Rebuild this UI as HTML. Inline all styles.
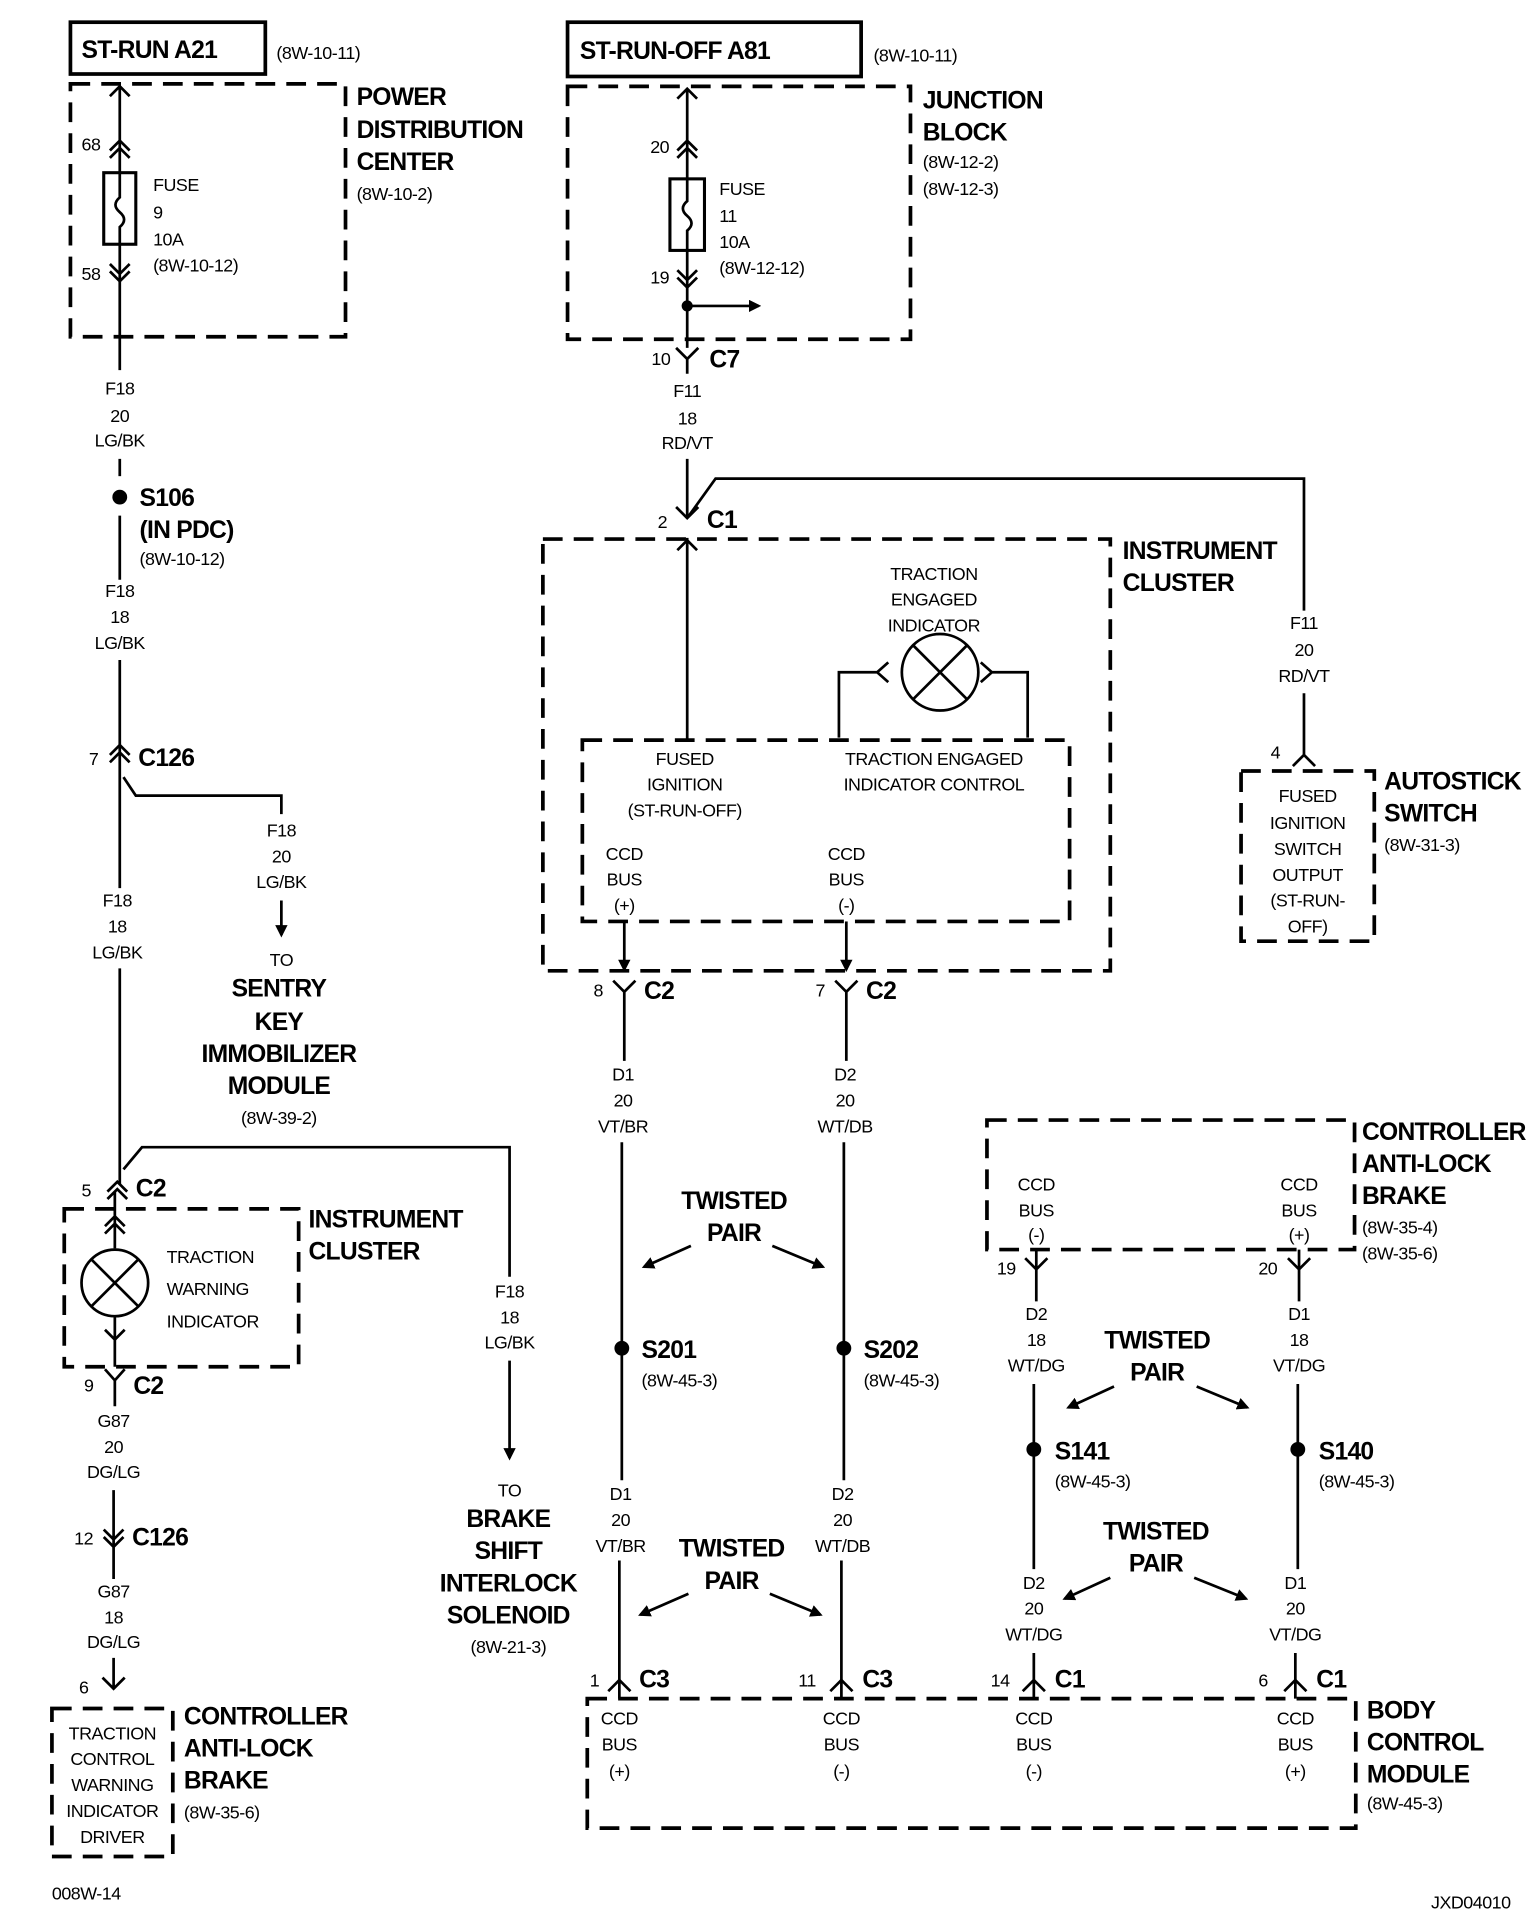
<!DOCTYPE html>
<html><head><meta charset="utf-8"><style>
html,body{margin:0;padding:0;background:#fff}
svg{display:block}
text{font-family:"Liberation Sans",sans-serif;fill:#000}
.b{font-weight:bold;font-size:20px;letter-spacing:-0.6px}
.s{font-size:14.5px;letter-spacing:-0.4px}
.c{text-anchor:middle}
.w{stroke:#000;stroke-width:2.2;fill:none}
.d{stroke:#000;stroke-width:3;fill:none;stroke-dasharray:16 9}
</style></head><body>
<svg width="1536" height="1912" viewBox="0 0 1245 1550" xmlns="http://www.w3.org/2000/svg">
<defs>
<marker id="ah" markerWidth="10" markerHeight="10" refX="8" refY="5" orient="auto" markerUnits="userSpaceOnUse"><path d="M0,0 L10,5 L0,10 z" fill="#000"/></marker>
</defs>
<!-- LEFT COLUMN -->
<rect x="57" y="18" width="158" height="42" fill="none" stroke="#000" stroke-width="3"/>
<text x="66" y="47" class="b">ST-RUN A21</text>
<text x="224" y="48" class="s">(8W-10-11)</text>
<rect x="57" y="68" width="223" height="205" class="d"/>
<text x="289" y="85" class="b">POWER</text><text x="289" y="112" class="b">DISTRIBUTION</text><text x="289" y="138" class="b">CENTER</text>
<text x="289" y="162" class="s">(8W-10-2)</text>
<path class="w" d="M97 70V140M97 198V300M89 78L97 70L105 78"/>
<path class="w" d="M89 122L97 114L105 122M89 128L97 120L105 128"/>
<rect x="84" y="140" width="26" height="58" fill="none" stroke="#000" stroke-width="2.5"/>
<path class="w" d="M97 140V160Q90 166 97 172Q104 178 97 184V198"/>
<path class="w" d="M89 214L97 222L105 214M89 220L97 228L105 220"/>
<text x="66" y="122" class="s">68</text><text x="66" y="227" class="s">58</text>
<text x="124" y="155" class="s">FUSE</text><text x="124" y="177" class="s">9</text><text x="124" y="199" class="s">10A</text><text x="124" y="220" class="s">(8W-10-12)</text>
<text x="97" y="320" class="s c">F18</text><text x="97" y="342" class="s c">20</text><text x="97" y="362" class="s c">LG/BK</text>
<path class="w" d="M97 372V386"/>
<circle cx="97" cy="403" r="6"/>
<text x="113" y="410" class="b">S106</text><text x="113" y="436" class="b">(IN PDC)</text><text x="113" y="458" class="s">(8W-10-12)</text>
<path class="w" d="M97 418V470"/>
<text x="97" y="484" class="s c">F18</text><text x="97" y="505" class="s c">18</text><text x="97" y="526" class="s c">LG/BK</text>
<path class="w" d="M97 535V720M97 785V960"/>
<path class="w" d="M89 612L97 604L105 612M89 618L97 610L105 618"/>
<text x="72" y="620" class="s">7</text><text x="112" y="621" class="b">C126</text>
<path class="w" d="M100 630L110 645H228V660"/>
<text x="228" y="678" class="s c">F18</text><text x="228" y="699" class="s c">20</text><text x="228" y="720" class="s c">LG/BK</text>
<path class="w" d="M228 730V758" marker-end="url(#ah)"/>
<text x="228" y="783" class="s c">TO</text>
<text x="226" y="808" class="b c">SENTRY</text><text x="226" y="835" class="b c">KEY</text><text x="226" y="861" class="b c">IMMOBILIZER</text><text x="226" y="887" class="b c">MODULE</text>
<text x="226" y="911" class="s c">(8W-39-2)</text>
<text x="95" y="735" class="s c">F18</text><text x="95" y="756" class="s c">18</text><text x="95" y="777" class="s c">LG/BK</text>
<path class="w" d="M87 966L95 958L103 966M87 972L95 964L103 972"/>
<text x="66" y="970" class="s">5</text><text x="110" y="970" class="b">C2</text>
<path class="w" d="M100 948L115 930H413V1035"/>
<text x="413" y="1052" class="s c">F18</text><text x="413" y="1073" class="s c">18</text><text x="413" y="1093" class="s c">LG/BK</text>
<path class="w" d="M413 1103V1182" marker-end="url(#ah)"/>
<text x="413" y="1213" class="s c">TO</text>
<text x="412" y="1238" class="b c">BRAKE</text><text x="412" y="1264" class="b c">SHIFT</text><text x="412" y="1290" class="b c">INTERLOCK</text><text x="412" y="1316" class="b c">SOLENOID</text>
<text x="412" y="1340" class="s c">(8W-21-3)</text>
<rect x="52" y="980" width="190" height="128" class="d"/>
<text x="250" y="995" class="b">INSTRUMENT</text><text x="250" y="1021" class="b">CLUSTER</text>
<path class="w" d="M93 966V1012M93 1068V1108M85 994L93 986L101 994M85 1000L93 992L101 1000"/>
<circle cx="93" cy="1040" r="27" class="w"/>
<path class="w" d="M74 1021L112 1059M112 1021L74 1059"/>
<text x="135" y="1024" class="s">TRACTION</text><text x="135" y="1050" class="s">WARNING</text><text x="135" y="1076" class="s">INDICATOR</text>
<path class="w" d="M85 1078L93 1086L101 1078M85 1110L93 1119L101 1110M93 1119V1140"/>
<text x="68" y="1128" class="s">9</text><text x="108" y="1130" class="b">C2</text>
<text x="92" y="1157" class="s c">G87</text><text x="92" y="1178" class="s c">20</text><text x="92" y="1198" class="s c">DG/LG</text>
<path class="w" d="M92 1208V1280M84 1240L92 1248L100 1240M84 1246L92 1254L100 1246"/>
<text x="60" y="1252" class="s">12</text><text x="107" y="1253" class="b">C126</text>
<text x="92" y="1295" class="s c">G87</text><text x="92" y="1316" class="s c">18</text><text x="92" y="1336" class="s c">DG/LG</text>
<path class="w" d="M92 1344V1369M83 1360L92 1369L101 1360"/>
<text x="64" y="1373" class="s">6</text>
<rect x="42" y="1385" width="98" height="120" class="d"/>
<text x="91" y="1410" class="s c">TRACTION</text><text x="91" y="1431" class="s c">CONTROL</text><text x="91" y="1452" class="s c">WARNING</text><text x="91" y="1473" class="s c">INDICATOR</text><text x="91" y="1494" class="s c">DRIVER</text>
<text x="149" y="1398" class="b">CONTROLLER</text><text x="149" y="1424" class="b">ANTI-LOCK</text><text x="149" y="1450" class="b">BRAKE</text>
<text x="149" y="1474" class="s">(8W-35-6)</text>
<text x="42" y="1540" class="s">008W-14</text>
<text x="1160" y="1547" class="s">JXD04010</text>
<!-- MIDDLE -->
<rect x="460" y="18" width="238" height="44" fill="none" stroke="#000" stroke-width="3"/>
<text x="470" y="48" class="b">ST-RUN-OFF A81</text>
<text x="708" y="50" class="s">(8W-10-11)</text>
<rect x="460" y="70" width="278" height="205" class="d"/>
<text x="748" y="88" class="b">JUNCTION</text><text x="748" y="114" class="b">BLOCK</text>
<text x="748" y="136" class="s">(8W-12-2)</text><text x="748" y="158" class="s">(8W-12-3)</text>
<path class="w" d="M557 72V145M549 80L557 72L565 80M549 122L557 114L565 122M549 128L557 120L565 128"/>
<rect x="543" y="145" width="28" height="58" fill="none" stroke="#000" stroke-width="2.5"/>
<path class="w" d="M557 145V163Q550 169 557 175Q564 181 557 187V203M557 203V282"/>
<path class="w" d="M549 219L557 227L565 219M549 225L557 233L565 225"/>
<text x="527" y="124" class="s">20</text><text x="527" y="230" class="s">19</text>
<text x="583" y="158" class="s">FUSE</text><text x="583" y="180" class="s">11</text><text x="583" y="201" class="s">10A</text><text x="583" y="222" class="s">(8W-12-12)</text>
<circle cx="557" cy="248" r="4.5"/>
<path class="w" d="M557 248H615" marker-end="url(#ah)"/>
<path class="w" d="M548 282L557 291L566 282M557 291V303"/>
<text x="528" y="296" class="s">10</text><text x="575" y="298" class="b">C7</text>
<text x="557" y="322" class="s c">F11</text><text x="557" y="344" class="s c">18</text><text x="557" y="364" class="s c">RD/VT</text>
<path class="w" d="M557 372V420M548 411L557 420L566 411M557 420L580 388H1057V495"/>
<text x="533" y="428" class="s">2</text><text x="573" y="428" class="b">C1</text>
<text x="1057" y="510" class="s c">F11</text><text x="1057" y="532" class="s c">20</text><text x="1057" y="553" class="s c">RD/VT</text>
<path class="w" d="M1057 562V612M1048 621L1057 612L1066 621"/>
<text x="1030" y="615" class="s">4</text>
<rect x="1006" y="625" width="108" height="138" class="d"/>
<text x="1060" y="650" class="s c">FUSED</text><text x="1060" y="672" class="s c">IGNITION</text><text x="1060" y="693" class="s c">SWITCH</text><text x="1060" y="714" class="s c">OUTPUT</text><text x="1060" y="735" class="s c">(ST-RUN-</text><text x="1060" y="756" class="s c">OFF)</text>
<text x="1122" y="640" class="b">AUTOSTICK</text><text x="1122" y="666" class="b">SWITCH</text><text x="1122" y="690" class="s">(8W-31-3)</text>
<rect x="440" y="437" width="460" height="350" class="d"/>
<text x="910" y="453" class="b">INSTRUMENT</text><text x="910" y="479" class="b">CLUSTER</text>
<path class="w" d="M557 436V600M549 446L557 438L565 446"/>
<rect x="472" y="600" width="395" height="147" class="d"/>
<text x="757" y="470" class="s c">TRACTION</text><text x="757" y="491" class="s c">ENGAGED</text><text x="757" y="512" class="s c">INDICATOR</text>
<circle cx="762" cy="545" r="31" class="w"/>
<path class="w" d="M740 523L784 567M784 523L740 567"/>
<path class="w" d="M720 537L711 545L720 553M711 545H680V598M795 537L804 545L795 553M804 545H833V598"/>
<text x="555" y="620" class="s c">FUSED</text><text x="555" y="641" class="s c">IGNITION</text><text x="555" y="662" class="s c">(ST-RUN-OFF)</text>
<text x="757" y="620" class="s c">TRACTION ENGAGED</text><text x="757" y="641" class="s c">INDICATOR CONTROL</text>
<text x="506" y="697" class="s c">CCD</text><text x="506" y="718" class="s c">BUS</text><text x="506" y="739" class="s c">(+)</text>
<text x="686" y="697" class="s c">CCD</text><text x="686" y="718" class="s c">BUS</text><text x="686" y="739" class="s c">(-)</text>
<path class="w" d="M506 747V786" marker-end="url(#ah)"/><path class="w" d="M686 747V786" marker-end="url(#ah)"/>
<path class="w" d="M497 795L506 804L515 795M506 804V860M677 795L686 804L695 795M686 804V860"/>
<text x="481" y="808" class="s">8</text><text x="522" y="810" class="b">C2</text>
<text x="661" y="808" class="s">7</text><text x="702" y="810" class="b">C2</text>
<text x="505" y="876" class="s c">D1</text><text x="505" y="897" class="s c">20</text><text x="505" y="918" class="s c">VT/BR</text>
<text x="685" y="876" class="s c">D2</text><text x="685" y="897" class="s c">20</text><text x="685" y="918" class="s c">WT/DB</text>
<path class="w" d="M504 926V1200M684 926V1200M502 1265V1362M682 1265V1362"/>
<text x="595" y="980" class="b c">TWISTED</text><text x="595" y="1006" class="b c">PAIR</text>
<path class="w" d="M560 1010L522 1027" marker-end="url(#ah)"/><path class="w" d="M626 1010L667 1027" marker-end="url(#ah)"/>
<circle cx="504" cy="1093" r="6"/><circle cx="684" cy="1093" r="6"/>
<text x="520" y="1101" class="b">S201</text><text x="520" y="1124" class="s">(8W-45-3)</text>
<text x="700" y="1101" class="b">S202</text><text x="700" y="1124" class="s">(8W-45-3)</text>
<rect x="480" y="1202" width="50" height="62" fill="#fff"/><rect x="660" y="1202" width="50" height="62" fill="#fff"/>
<text x="503" y="1216" class="s c">D1</text><text x="503" y="1237" class="s c">20</text><text x="503" y="1258" class="s c">VT/BR</text>
<text x="683" y="1216" class="s c">D2</text><text x="683" y="1237" class="s c">20</text><text x="683" y="1258" class="s c">WT/DB</text>
<text x="593" y="1262" class="b c">TWISTED</text><text x="593" y="1288" class="b c">PAIR</text>
<path class="w" d="M558 1292L519 1309" marker-end="url(#ah)"/><path class="w" d="M624 1292L665 1309" marker-end="url(#ah)"/>
<path class="w" d="M493 1371L502 1362L511 1371M673 1371L682 1362L691 1371M829 1371L838 1362L847 1371M1041 1371L1050 1362L1059 1371M502 1362V1377M682 1362V1377M838 1362V1377M1050 1362V1377"/>
<text x="478" y="1367" class="s">1</text><text x="518" y="1368" class="b">C3</text>
<text x="647" y="1367" class="s">11</text><text x="699" y="1368" class="b">C3</text>
<text x="803" y="1367" class="s">14</text><text x="855" y="1368" class="b">C1</text>
<text x="1020" y="1367" class="s">6</text><text x="1067" y="1368" class="b">C1</text>
<rect x="476" y="1377" width="623" height="105" class="d"/>
<text x="502" y="1398" class="s c">CCD</text><text x="502" y="1419" class="s c">BUS</text><text x="502" y="1441" class="s c">(+)</text>
<text x="682" y="1398" class="s c">CCD</text><text x="682" y="1419" class="s c">BUS</text><text x="682" y="1441" class="s c">(-)</text>
<text x="838" y="1398" class="s c">CCD</text><text x="838" y="1419" class="s c">BUS</text><text x="838" y="1441" class="s c">(-)</text>
<text x="1050" y="1398" class="s c">CCD</text><text x="1050" y="1419" class="s c">BUS</text><text x="1050" y="1441" class="s c">(+)</text>
<text x="1108" y="1393" class="b">BODY</text><text x="1108" y="1419" class="b">CONTROL</text><text x="1108" y="1445" class="b">MODULE</text><text x="1108" y="1467" class="s">(8W-45-3)</text>
<!-- RIGHT -->
<rect x="800" y="908" width="298" height="105" class="d"/>
<text x="1104" y="924" class="b">CONTROLLER</text><text x="1104" y="950" class="b">ANTI-LOCK</text><text x="1104" y="976" class="b">BRAKE</text>
<text x="1104" y="1000" class="s">(8W-35-4)</text><text x="1104" y="1021" class="s">(8W-35-6)</text>
<text x="840" y="965" class="s c">CCD</text><text x="840" y="986" class="s c">BUS</text><text x="840" y="1006" class="s c">(-)</text>
<text x="1053" y="965" class="s c">CCD</text><text x="1053" y="986" class="s c">BUS</text><text x="1053" y="1006" class="s c">(+)</text>
<path class="w" d="M831 1020L840 1029L849 1020M840 1013V1055M1044 1020L1053 1029L1062 1020M1053 1013V1055"/>
<text x="808" y="1033" class="s">19</text><text x="1020" y="1033" class="s">20</text>
<text x="840" y="1070" class="s c">D2</text><text x="840" y="1091" class="s c">18</text><text x="840" y="1112" class="s c">WT/DG</text>
<text x="1053" y="1070" class="s c">D1</text><text x="1053" y="1091" class="s c">18</text><text x="1053" y="1112" class="s c">VT/DG</text>
<path class="w" d="M838 1122V1272M1052 1122V1272M838 1340V1362M1050 1340V1362"/>
<text x="938" y="1093" class="b c">TWISTED</text><text x="938" y="1119" class="b c">PAIR</text>
<path class="w" d="M903 1124L866 1141" marker-end="url(#ah)"/><path class="w" d="M970 1124L1011 1141" marker-end="url(#ah)"/>
<circle cx="838" cy="1175" r="6"/><circle cx="1052" cy="1175" r="6"/>
<text x="855" y="1183" class="b">S141</text><text x="855" y="1206" class="s">(8W-45-3)</text>
<text x="1069" y="1183" class="b">S140</text><text x="1069" y="1206" class="s">(8W-45-3)</text>
<text x="937" y="1248" class="b c">TWISTED</text><text x="937" y="1274" class="b c">PAIR</text>
<path class="w" d="M900 1279L863 1296" marker-end="url(#ah)"/><path class="w" d="M968 1279L1010 1296" marker-end="url(#ah)"/>
<text x="838" y="1288" class="s c">D2</text><text x="838" y="1309" class="s c">20</text><text x="838" y="1330" class="s c">WT/DG</text>
<text x="1050" y="1288" class="s c">D1</text><text x="1050" y="1309" class="s c">20</text><text x="1050" y="1330" class="s c">VT/DG</text>
</svg>
</body></html>
